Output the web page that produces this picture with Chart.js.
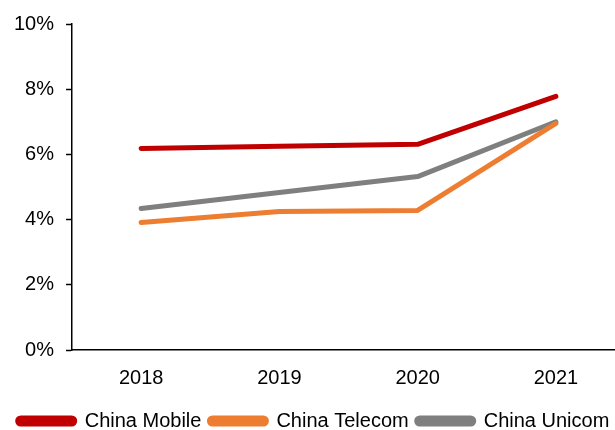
<!DOCTYPE html>
<html>
<head>
<meta charset="utf-8">
<script src="https://cdn.jsdelivr.net/npm/chart.js@4/dist/chart.umd.min.js"></script>
<style>
  html, body { margin: 0; padding: 0; background: #fff; overflow: hidden; }
  #wrap { width: 625px; height: 441px; }
</style>
</head>
<body>
<div id="wrap"><canvas id="lineChart"></canvas></div>
<script>
// Data (percent)
const years = ['2018', '2019', '2020', '2021'];
const chinaMobile = [6.18, 6.25, 6.31, 7.78];
const chinaTelecom = [3.91, 4.25, 4.28, 6.95];
const chinaUnicom = [4.34, 4.83, 5.32, 7.0];
const yMin = 0, yMax = 10, yStep = 2;

const font = { family: 'Arial, "Liberation Sans", sans-serif', size: 20 };

function lineSet(label, data, color) {
    return {
        label: label,
        data: data,
        borderColor: color,
        backgroundColor: color,
        borderWidth: 5,
        borderCapStyle: 'round',
        borderJoinStyle: 'round',
        pointRadius: 0,
        tension: 0
    };
}

const ctx = document.getElementById('lineChart').getContext('2d');
new Chart(ctx, {
    type: 'line',
    data: {
        labels: years,
        datasets: [
            lineSet('China Mobile', chinaMobile, '#C00000'),
            lineSet('China Telecom', chinaTelecom, '#ED7D31'),
            lineSet('China Unicom', chinaUnicom, '#7F7F7F')
        ]
    },
    options: {
        responsive: true,
        maintainAspectRatio: false,
        animation: false,
        layout: { padding: { top: 12, left: 2, right: 0, bottom: 0 } },
        scales: {
            x: {
                offset: true,
                grid: { display: false },
                border: { display: true, color: '#000', width: 1.5 },
                ticks: { color: '#000', font: font, padding: 8 },
                // extra room between the year labels and the legend
                afterFit: (scale) => { scale.height += 5; }
            },
            y: {
                min: yMin,
                max: yMax,
                grid: {
                    drawOnChartArea: false,
                    drawTicks: true,
                    tickLength: 6,
                    tickColor: '#000',
                    tickWidth: 1.5,
                    color: '#000'
                },
                border: { display: true, color: '#000', width: 1.5 },
                ticks: { color: '#000', font: font, padding: 12, stepSize: yStep, callback: v => v + '%' }
            }
        },
        plugins: {
            legend: {
                position: 'bottom',
                labels: {
                    color: '#000',
                    font: font,
                    boxWidth: 57,
                    boxHeight: 6,
                    useBorderRadius: true,
                    borderRadius: 3,
                    padding: 8
                }
            },
            tooltip: { enabled: false }
        }
    }
});
</script>
</body>
</html>
